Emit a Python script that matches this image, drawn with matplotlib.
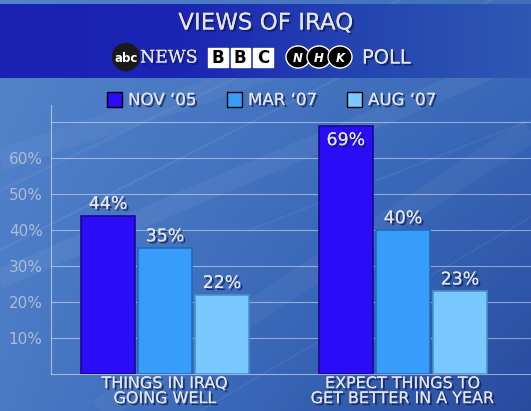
import matplotlib
matplotlib.use("Agg")
import matplotlib.pyplot as plt
import matplotlib.patheffects as pe
from matplotlib.patches import Rectangle, Circle, Ellipse
import numpy as np

# data
categories = ["THINGS IN IRAQ\nGOING WELL", "EXPECT THINGS TO\nGET BETTER IN A YEAR"]
series_names = ["NOV \u201805", "MAR \u201807", "AUG \u201807"]
series_colors = ["#2a0cf6", "#379cfa", "#79c8ff"]
series_edges = ["#1a0890", "#1f6cb8", "#4a90c8"]
values = [
    [44, 69],   # NOV '05
    [35, 40],   # MAR '07
    [22, 23],   # AUG '07
]
yticks = [10, 20, 30, 40, 50, 60, 70]
ytick_labels = ["10%", "20%", "30%", "40%", "50%", "60%", ""]

W, H = 531, 411
fig = plt.figure(figsize=(W / 100, H / 100), dpi=100)

txt_col = "#e4e4ec"
shadow = [pe.withSimplePatchShadow(offset=(1.5, -1.5), shadow_rgbFace="#0c1650", alpha=0.7), pe.Normal()]

# background in pixel coords
bg = fig.add_axes([0, 0, 1, 1])
bg.set_xlim(0, W)
bg.set_ylim(H, 0)
bg.axis("off")
yy, xx = np.mgrid[0:1:200j, 0:1:200j]
grad = 0.62 + 0.18 * (1 - xx) + 0.08 * (1 - yy) - 0.18 * yy * xx
bg_cmap = matplotlib.colors.LinearSegmentedColormap.from_list("bg", ["#25469a", "#3a68b8", "#5586cc"])
bg.imshow(grad, cmap=bg_cmap, extent=(0, W, H, 0), aspect="auto", vmin=0.4, vmax=0.9)
# soft light streaks
for x0, x1, y0, y1, a, lw in [(-50, 560, 300, 40, 0.05, 14), (0, 531, 250, -20, 0.07, 1.5), (100, 531, 411, 130, 0.04, 18),
                              (-20, 400, 200, 0, 0.05, 2), (200, 560, 411, 200, 0.06, 1.2), (0, 300, 160, 60, 0.04, 16),
                              (250, 531, 230, 120, 0.06, 1.2)]:
    bg.plot([x0, x1], [y0, y1], color="white", alpha=a, lw=lw, solid_capstyle="butt")

# header band
band = np.tile(np.linspace(0, 1, 200), (10, 1))
band_cmap = matplotlib.colors.LinearSegmentedColormap.from_list("band", ["#1b22b2", "#1b24b4", "#2444b0", "#2e58b4"])
bg.imshow(band, cmap=band_cmap, extent=(0, W, 78, 4), aspect="auto", zorder=2)

bg.text(W / 2, 23, "VIEWS OF IRAQ", ha="center", va="center", fontsize=16.5, color=txt_col,
        path_effects=shadow, zorder=5)

# logos row
bg.add_patch(Circle((126, 57), 13.5, color="#1a1a1a", zorder=5))
bg.text(126, 58, "abc", ha="center", va="center", fontsize=8.5, fontweight="bold", color="white", zorder=6)
bg.text(140, 58, "NEWS", ha="left", va="center", fontsize=12.5, family="DejaVu Serif", color="#e8e8f0",
        path_effects=shadow, zorder=5)
for i, ch in enumerate("BBC"):
    x = 208 + i * 22.5
    bg.add_patch(Rectangle((x, 48), 19.5, 19.5, color="white", zorder=5))
    bg.text(x + 9.75, 58, ch, ha="center", va="center", fontsize=12, fontweight="bold", color="black", zorder=6)
for i, ch in enumerate("NHK"):
    x = 298 + i * 21
    bg.add_patch(Ellipse((x, 57), 24, 22, facecolor="black", edgecolor="white", lw=1, zorder=5))
    bg.text(x, 58, ch, ha="center", va="center", fontsize=8.5, fontweight="bold", style="italic",
            color="white", zorder=6)
bg.text(362, 58, "POLL", ha="left", va="center", fontsize=14, color=txt_col, path_effects=shadow, zorder=5)

# legend
leg_x = [107, 227, 347]
for lx, name, c in zip(leg_x, series_names, series_colors):
    bg.add_patch(Rectangle((lx, 92), 15, 15, facecolor=c, edgecolor="black", lw=1, zorder=5))
    bg.text(lx + 21, 100, name, ha="left", va="center", fontsize=12, color=txt_col, path_effects=shadow, zorder=5)

# main chart
ax = fig.add_axes([51 / W, 37 / H, 480 / W, 269 / H])
ax.patch.set_alpha(0)
ax.set_ylim(0, 74.7)
ax.set_xlim(-0.479, 1.538)
pitch, width = 0.2395, 0.227
x = np.arange(len(categories))
for i, (vals, c, ec) in enumerate(zip(values, series_colors, series_edges)):
    xs = x + (i - 1) * pitch
    ax.bar(xs, vals, width=width, color=c, edgecolor=ec, linewidth=1.2, zorder=3)
    for xi, v in zip(xs, vals):
        if v > 65:
            ax.annotate(f"{v}%", (xi, v), xytext=(0, -4), textcoords="offset points", ha="center", va="top",
                        fontsize=12.5, color=txt_col, path_effects=shadow, zorder=4)
        else:
            ax.annotate(f"{v}%", (xi, v), xytext=(0, 2), textcoords="offset points", ha="center", va="bottom",
                        fontsize=12.5, color=txt_col, path_effects=shadow, zorder=4)

ax.set_yticks(yticks)
ax.set_yticklabels(ytick_labels, fontsize=11, color="#aebbd8")
ax.tick_params(axis="y", length=0, pad=6)
ax.yaxis.grid(True, color="white", alpha=0.45, lw=0.8)
ax.set_axisbelow(True)
ax.set_xticks(x)
ax.set_xticklabels(categories, fontsize=11.5, color=txt_col, linespacing=1.0)
for t in ax.get_xticklabels():
    t.set_path_effects(shadow)
ax.tick_params(axis="x", length=0, pad=1.5)
for s in ["top", "right"]:
    ax.spines[s].set_visible(False)
for s in ["left", "bottom"]:
    ax.spines[s].set_color((1, 1, 1, 0.5))
    ax.spines[s].set_linewidth(0.8)

fig.savefig("out.png", dpi=100)
